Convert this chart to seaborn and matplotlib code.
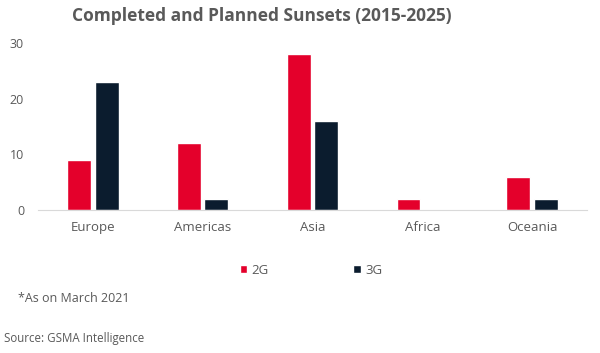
import pandas as pd
import matplotlib.pyplot as plt
import seaborn as sns

regions = ['Europe', 'Americas', 'Asia', 'Africa', 'Oceania']
sunsets_2g = [9, 12, 28, 2, 6]
sunsets_3g = [23, 2, 16, 0, 2]

df = pd.DataFrame({
    'region': regions * 2,
    'count': sunsets_2g + sunsets_3g,
    'tech': ['2G'] * len(regions) + ['3G'] * len(regions),
})

sns.set_style('white')
plt.rcParams['font.family'] = ['Open Sans', 'DejaVu Sans']
grey = '#595959'

fig = plt.figure(figsize=(6, 3.53), dpi=100)
ax = fig.add_axes([0.0633, 0.405, 0.915, 0.473])

sns.barplot(data=df, x='region', y='count', hue='tech',
            palette={'2G': '#e4002b', '3G': '#0b1c2e'}, saturation=1,
            width=0.5, gap=0.13, ax=ax, legend=True)

ax.set_xlim(-0.5, 4.5)
ax.set_ylim(0, 30)
ax.set_yticks([0, 10, 20, 30])
ax.set_xlabel('')
ax.set_ylabel('')
sns.despine(ax=ax, left=True)
ax.spines['bottom'].set_color('#d9d9d9')
ax.tick_params(axis='y', length=0, pad=10, labelsize=9, labelcolor=grey)
ax.tick_params(axis='x', length=0, pad=8, labelsize=9.5, labelcolor=grey)

handles, labels = ax.get_legend_handles_labels()
ax.get_legend().remove()
fig.legend(handles, labels, loc='center', bbox_to_anchor=(0.518, 0.235),
           ncol=2, frameon=False, handlelength=0.6, handleheight=0.6,
           handletextpad=0.3, columnspacing=6.4, fontsize=9.5,
           labelcolor=grey)

fig.text(0.437, 0.956, 'Completed and Planned Sunsets (2015-2025)',
         ha='center', va='center', fontsize=12.5, fontweight='bold', color=grey)
fig.text(0.03, 0.153, '*As on March 2021', ha='left', va='center',
         fontsize=9, color=grey)
fig.text(0.006, 0.042, 'Source: GSMA Intelligence', ha='left', va='center',
         fontsize=8.3, color=grey)

fig.savefig('out.png', dpi=100)
